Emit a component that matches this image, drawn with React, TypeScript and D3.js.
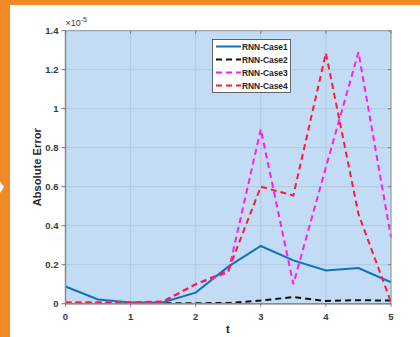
import React from "react";
import * as d3 from "d3";

// Time samples and error series (values in units of 1e-5)
const tValues = [0, 0.5, 1, 1.5, 2, 2.5, 3, 3.5, 4, 4.5, 5];
const case1 = [0.088, 0.022, 0.006, 0.008, 0.057, 0.19, 0.296, 0.222, 0.17, 0.183, 0.11];
const case2 = [0.002, 0.002, 0.002, 0.002, 0.002, 0.004, 0.016, 0.034, 0.014, 0.018, 0.016];
const case3 = [0.006, 0.006, 0.006, 0.01, 0.1, 0.16, 0.895, 0.1, 0.7, 1.29, 0.34];
const case4 = [0.006, 0.006, 0.006, 0.012, 0.1, 0.17, 0.6, 0.555, 1.285, 0.46, 0.008];

const seriesNames = ["RNN-Case1", "RNN-Case2", "RNN-Case3", "RNN-Case4"];
const seriesColors = ["#0f72bd", "#111111", "#ff1cf2", "#ff1a38"];
const seriesDash = [null, "6,4", "6,4", "6,4"];

const xTicks = [0, 1, 2, 3, 4, 5];
const yTicks = [0, 0.2, 0.4, 0.6, 0.8, 1, 1.2, 1.4];
const yTickLabels = ["0", "0.2", "0.4", "0.6", "0.8", "1", "1.2", "1.4"];

export default function App() {
  const W = 420;
  const H = 337;
  const left = 65.5;
  const right = 391;
  const top = 30.7;
  const bottom = 303.7;

  const x = d3.scaleLinear().domain([0, 5]).range([left, right]);
  const y = d3.scaleLinear().domain([0, 1.4]).range([bottom, top]);

  const line = d3
    .line<number>()
    .x((_, i) => x(tValues[i]))
    .y((d) => y(d));

  const allSeries = [case1, case2, case3, case4];
  const font = "Arial, 'Liberation Sans', sans-serif";
  const tickColor = "#3a3a3a";

  return (
    <svg
      width={W}
      height={H}
      style={{ position: "absolute", left: 0, top: 0 }}
      fontFamily={font}
    >
      {/* frame */}
      <rect x={0} y={0} width={W} height={H} fill="#ffffff" />
      <rect x={0} y={0} width={W} height={5} fill="#f08a24" />
      <rect x={0} y={0} width={10} height={H} fill="#f08a24" />
      <path d="M0,181 L4,187 L0,193 Z" fill="#f4f4f4" />

      {/* plot background */}
      <rect x={left} y={top} width={right - left} height={bottom - top} fill="#c3dcf6" />

      {/* grid */}
      {xTicks.map((t) => (
        <line
          key={"gx" + t}
          x1={x(t)}
          x2={x(t)}
          y1={top}
          y2={bottom}
          stroke="#afc3d8"
          strokeWidth={0.8}
        />
      ))}
      {yTicks.map((t) => (
        <line
          key={"gy" + t}
          x1={left}
          x2={right}
          y1={y(t)}
          y2={y(t)}
          stroke="#afc3d8"
          strokeWidth={0.8}
        />
      ))}

      {/* series */}
      <defs>
        <clipPath id="plotClip">
          <rect x={left} y={top - 2} width={right - left + 2} height={bottom - top + 2} />
        </clipPath>
      </defs>
      <g clipPath="url(#plotClip)">
        {allSeries.map((s, i) => (
          <path
            key={seriesNames[i]}
            d={line(s) || ""}
            fill="none"
            stroke={seriesColors[i]}
            strokeWidth={2}
            strokeDasharray={seriesDash[i] || undefined}
          />
        ))}
      </g>

      {/* axes box */}
      <rect
        x={left}
        y={top}
        width={right - left}
        height={bottom - top}
        fill="none"
        stroke="#9a9a9a"
        strokeWidth={1}
      />
      <line x1={left} x2={left} y1={top} y2={bottom} stroke="#8a8a8a" strokeWidth={1.5} />
      <line x1={left} x2={right} y1={bottom} y2={bottom} stroke="#8a8a8a" strokeWidth={1.5} />

      {/* y ticks */}
      {yTicks.map((t, i) => (
        <g key={"yt" + t}>
          <line x1={left - 4} x2={left} y1={y(t)} y2={y(t)} stroke="#777" strokeWidth={1} />
          <line x1={right - 3} x2={right} y1={y(t)} y2={y(t)} stroke="#777" strokeWidth={1} />
          <text
            x={left - 7}
            y={y(t) + 3.4}
            textAnchor="end"
            fontSize={9.5}
            fontWeight="bold"
            fill={tickColor}
          >
            {yTickLabels[i]}
          </text>
        </g>
      ))}

      {/* x ticks */}
      {xTicks.map((t) => (
        <g key={"xt" + t}>
          <line x1={x(t)} x2={x(t)} y1={bottom} y2={bottom + 3} stroke="#777" strokeWidth={1} />
          <line x1={x(t)} x2={x(t)} y1={top} y2={top + 3} stroke="#777" strokeWidth={1} />
          <text
            x={x(t)}
            y={bottom + 16}
            textAnchor="middle"
            fontSize={9.5}
            fontWeight="bold"
            fill={tickColor}
          >
            {t}
          </text>
        </g>
      ))}

      {/* exponent */}
      <text x={left} y={26} fontSize={9} fill={tickColor}>
        ×10
        <tspan dy={-4} fontSize={7}>
          -5
        </tspan>
      </text>

      {/* axis labels */}
      <text
        x={(left + right) / 2 - 0.5}
        y={333}
        textAnchor="middle"
        fontSize={11}
        fontWeight="bold"
        fill="#222"
      >
        t
      </text>
      <text
        transform={`translate(41, ${(top + bottom) / 2}) rotate(-90)`}
        textAnchor="middle"
        fontSize={11.2}
        fontWeight="bold"
        fill="#2a2a2a"
      >
        Absolute Error
      </text>

      {/* legend */}
      <rect x={212.5} y={39.5} width={78} height={53} fill="#ffffff" stroke="#444" strokeWidth={0.8} />
      {seriesNames.map((name, i) => {
        const ly = 46.5 + i * 13;
        return (
          <g key={"lg" + name}>
            <line
              x1={216}
              x2={241}
              y1={ly}
              y2={ly}
              stroke={seriesColors[i]}
              strokeWidth={2}
              strokeDasharray={seriesDash[i] || undefined}
            />
            <text x={242} y={ly + 3} fontSize={8.4} fontWeight="bold" fill="#222">
              {name}
            </text>
          </g>
        );
      })}
    </svg>
  );
}
